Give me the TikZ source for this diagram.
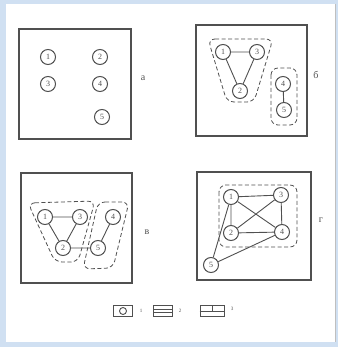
\documentclass[tikz,border=0pt]{standalone}
\usepackage{fontspec}
\setmainfont{Liberation Serif}
\usetikzlibrary{positioning}
\definecolor{scan}{RGB}{208,224,242}
\definecolor{ink}{RGB}{80,80,80}

\tikzset{
  vert/.style={circle, draw=ink, line width=1pt, minimum size=15pt, inner sep=0pt,
    text=ink, font=\fontsize{8}{8}\selectfont},
  frame/.style={draw=ink, line width=1.1pt},
  hull/.style={draw=ink, dash pattern=on 4pt off 2.5pt, line width=0.8pt, rounded corners=7pt},
  tag/.style={text=ink, font=\fontsize{10}{10}\selectfont},
  keytag/.style={text=ink, font=\fontsize{5}{5}\selectfont},
  keybox/.style={draw=ink, line width=0.9pt, minimum width=19pt, minimum height=11pt, inner sep=0pt},
}

\begin{document}
\begin{tikzpicture}[x=1pt, y=-1pt, line width=0.9pt]
  % paper
  \fill[scan] (0,0) rectangle (338,347);
  \fill[white] (6,4) rectangle (335,342);
  \draw[gray!50] (335,4) -- (335,342);

  % panel a: no links
  \draw[frame] (19,29) rectangle (131,139);
  \node[tag] (la) at (143,78) {а};
  \node[vert] (a1) at (48,57) {1};
  \node[vert] (a2) at (100,57) {2};
  \node[vert] (a3) at (48,84) {3};
  \node[vert] (a4) at (100,84) {4};
  \node[vert] (a5) at (102,117) {5};

  % panel b: two groups
  \draw[frame] (196,25) rectangle (307,136);
  \node[tag] (lb) at (316,75) {б};
  \node[vert] (b1) at (223,52) {1};
  \node[vert] (b3) at (257,52) {3};
  \node[vert] (b2) at (240,91) {2};
  \node[vert] (b4) at (283,84) {4};
  \node[vert] (b5) at (284,110) {5};
  \draw[ink] (b1) -- (b3) (b1) -- (b2) (b3) -- (b2) (b4) -- (b5);
  \draw[hull] (208,39) -- (273,39) -- (254,102) -- (227,102) -- cycle;
  \draw[hull] (271,68) rectangle (297,125);

  % panel c: overlapping groups
  \draw[frame] (21,173) rectangle (132,283);
  \node[tag] (lc) at (147,232) {в};
  \node[vert] (c1) at (45,217) {1};
  \node[vert] (c3) at (80,217) {3};
  \node[vert] (c4) at (113,217) {4};
  \node[vert] (c2) at (63,248) {2};
  \node[vert] (c5) at (98,248) {5};
  \draw[ink] (c1) -- (c3) (c1) -- (c2) (c3) -- (c2) (c2) -- (c5) (c4) -- (c5);
  \draw[hull] (28,203) -- (95,201) -- (78,262) -- (55,262) -- cycle;
  \draw[hull] (98,202) -- (129,202) -- (113,268) -- (83,269) -- cycle;

  % panel d: one group and a hanger
  \draw[frame] (197,172) rectangle (311,280);
  \node[tag] (ld) at (321,220) {г};
  \node[vert] (d1) at (231,197) {1};
  \node[vert] (d3) at (281,195) {3};
  \node[vert] (d2) at (231,233) {2};
  \node[vert] (d4) at (282,232) {4};
  \node[vert] (d5) at (211,265) {5};
  \draw[ink] (d1) -- (d3) (d1) -- (d2) (d1) -- (d4) (d3) -- (d2)
    (d3) -- (d4) (d2) -- (d4) (d1) -- (d5) (d5) -- (d4);
  \draw[hull] (219,185) rectangle (297,247);

  % key
  \node[keybox] (k1) at (123,311) {};
  \node[draw=ink, circle, minimum size=7pt, inner sep=0pt] (k1c) at (123,311) {};
  \node[keytag] (k1t) at (141,311) {1};
  \node[keybox] (k2) at (163,311) {};
  \draw[ink] ([yshift=-1.5pt]k2.west) -- ([yshift=-1.5pt]k2.east)
    ([yshift=1.5pt]k2.west) -- ([yshift=1.5pt]k2.east);
  \node[keytag] (k2t) at (180,311) {2};
  \node[keybox, minimum width=24pt] (k3) at (212,311) {};
  \draw[ink] (k3.west) -- (k3.east) (k3.center) -- (k3.north);
  \node[keytag] (k3t) at (232,309) {3};
\end{tikzpicture}
\end{document}
